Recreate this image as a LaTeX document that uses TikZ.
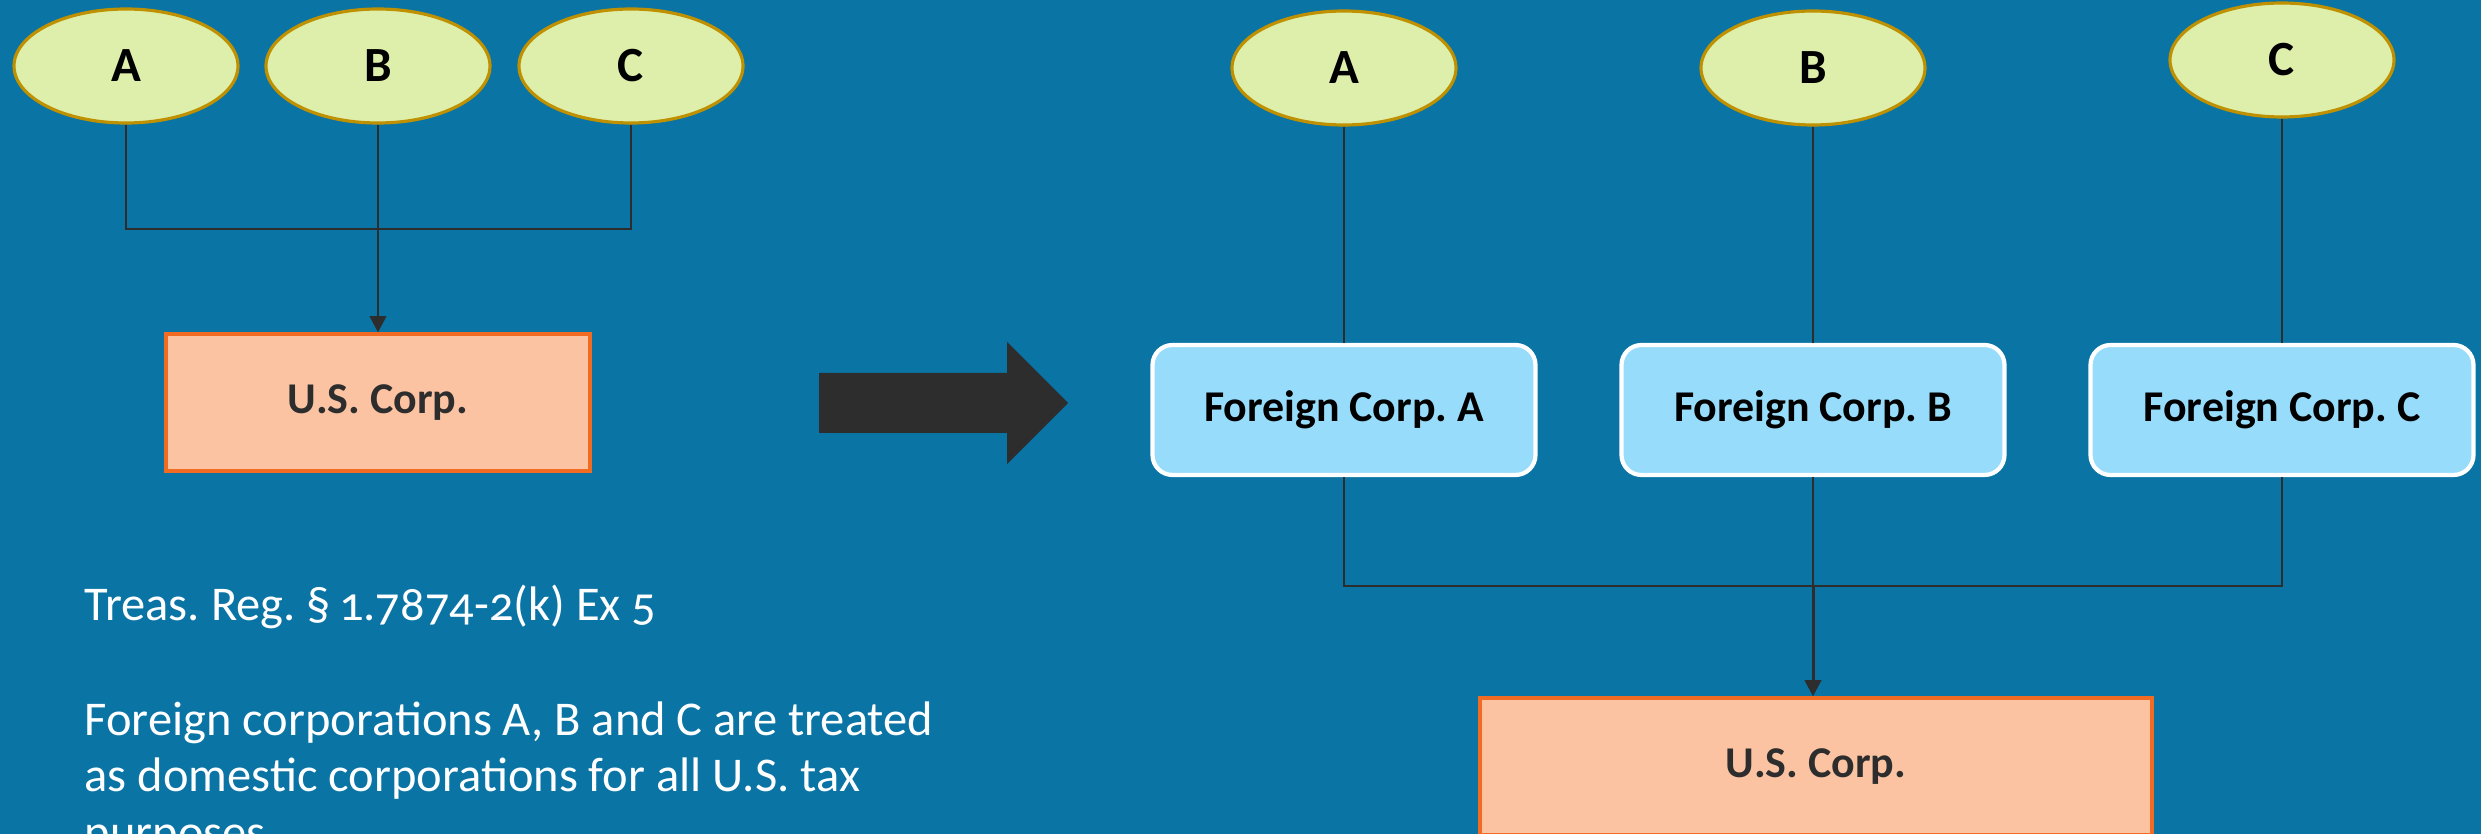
\documentclass[tikz,border=0pt]{standalone}
\usepackage{fontspec}
\setmainfont{Carlito}
\usepackage{xcolor}
\usepackage{tikz}
\usetikzlibrary{arrows.meta,shapes.geometric}
\definecolor{SlideBlue}{HTML}{0A74A5}
\definecolor{OwnerGreen}{HTML}{DEEFAB}
\definecolor{OwnerGold}{HTML}{BF9000}
\definecolor{CorpPeach}{HTML}{FBC3A2}
\definecolor{CorpOrange}{HTML}{F26B22}
\definecolor{ForeignBlue}{HTML}{97DCFA}
\definecolor{LineDark}{HTML}{2D2D2D}
\frenchspacing
\tikzset{
    owner/.style={ellipse, draw=OwnerGold, fill=OwnerGreen, line width=0.9pt,
        minimum width=2.24cm, minimum height=1.14cm, inner sep=0pt,
        font=\fontsize{14}{16}\selectfont\bfseries},
    uscorp/.style={rectangle, draw=CorpOrange, fill=CorpPeach, line width=0.9pt,
        minimum height=1.37cm, text=LineDark, font=\fontsize{12.5}{15}\selectfont\bfseries},
    forcorp/.style={rectangle, rounded corners=0.2cm, draw=white, fill=ForeignBlue,
        line width=1.2pt, minimum width=3.83cm, minimum height=1.30cm,
        font=\fontsize{12.5}{15}\selectfont\bfseries},
    note/.style={anchor=base west, inner sep=0pt, text=white,
        font=\fontsize{13.8}{16}\selectfont},
    link/.style={draw=LineDark, line width=0.55pt},
    linkarrow/.style={draw=LineDark, line width=0.85pt,
        -{Triangle[length=4.6pt,width=4.6pt]}}
}

\begin{document}
\begin{tikzpicture}
        \path[use as bounding box, fill=SlideBlue] (0,0) rectangle (24.81,8.34);

        \node[owner] (ownA) at (1.26,7.68) {A};
        \node[owner] (ownB) at (3.78,7.68) {B};
        \node[owner] (ownC) at (6.31,7.68) {C};
        \node[uscorp, minimum width=4.24cm] (usL) at (3.78,4.315) {U.S. Corp.};
        \coordinate (joinL) at (3.78,6.05);
        \draw[link] (ownA.south) |- (joinL) -| (ownC.south);
        \draw[link] (ownB.south) -- (joinL);
        \draw[linkarrow] (joinL) -- (usL.north);

        \fill[LineDark] (8.19,4.01) -- (10.07,4.01) -- (10.07,3.70) -- (10.68,4.31)
            -- (10.07,4.92) -- (10.07,4.61) -- (8.19,4.61) -- cycle;

        \node[note] (treas) at (0.84,2.13) {Treas. Reg. {\addfontfeatures{Numbers=OldStyle}§\,1.7874-2(k) Ex 5}};
        \node[note] (sumA) at (0.84,0.98) {Foreign corporations A, B and C are treated};
        \node[note] (sumB) at (0.84,0.42) {as domestic corporations for all U.S. tax};
        \node[note] (sumC) at (0.84,-0.15) {purposes.};

        \node[owner] (fownA) at (13.44,7.66) {A};
        \node[owner] (fownB) at (18.13,7.66) {B};
        \node[owner] (fownC) at (22.82,7.74) {C};
        \node[forcorp] (fcA) at (13.44,4.24) {Foreign Corp. A};
        \node[forcorp] (fcB) at (18.13,4.24) {Foreign Corp. B};
        \node[forcorp] (fcC) at (22.82,4.24) {Foreign Corp. C};
        \node[uscorp, minimum width=6.72cm] (usR) at (18.16,0.675) {U.S. Corp.};
        \coordinate (joinR) at (18.13,2.48);
        \draw[link] (fownA.south) -- (fcA.north);
        \draw[link] (fownB.south) -- (fcB.north);
        \draw[link] (fownC.south) -- (fcC.north);
        \draw[link] (fcA.south) |- (joinR) -| (fcC.south);
        \draw[link] (fcB.south) -- (joinR);
        \draw[linkarrow] (joinR) -- (joinR |- usR.north);
\end{tikzpicture}
\end{document}
